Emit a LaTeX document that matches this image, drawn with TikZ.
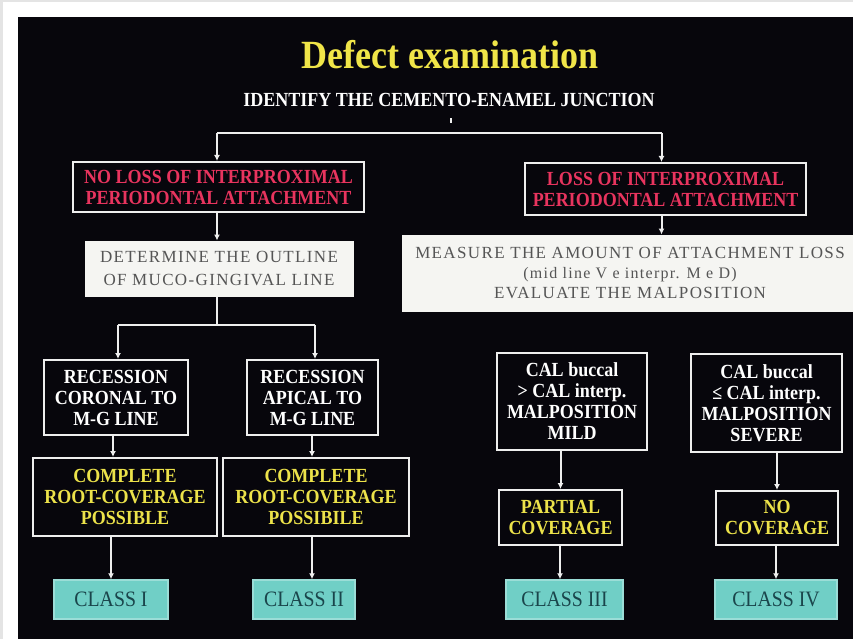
\documentclass[tikz,border=0pt]{standalone}
\usepackage{fontspec}
\setmainfont{Liberation Serif}
\newfontfamily\condfont[FakeStretch=0.9]{Liberation Serif}
\newfontfamily\spacedfont[LetterSpace=8]{Liberation Serif}
\usetikzlibrary{arrows.meta,calc}
\definecolor{bgc}{HTML}{07060C}
\definecolor{edgegrey}{HTML}{E4E4E4}
\definecolor{linew}{HTML}{EEEEEE}
\definecolor{redc}{HTML}{E8345E}
\definecolor{yelc}{HTML}{ECE24A}
\definecolor{titley}{HTML}{F0E548}
\definecolor{offw}{HTML}{F5F5F2}
\definecolor{greyt}{HTML}{555555}
\definecolor{cyanc}{HTML}{70CFC6}
\definecolor{tealt}{HTML}{1A454B}
\tikzset{
  darkbox/.style={draw=linew, line width=2pt, fill=bgc, inner sep=0pt, align=center,
    font=\condfont\bfseries\fontsize{20}{21}\selectfont},
  redbox/.style={darkbox, text=redc},
  yelbox/.style={darkbox, text=yelc},
  whtbox/.style={darkbox, text=white},
  lightbox/.style={draw=offw, fill=offw, line width=1pt, inner sep=0pt, align=center,
    text=greyt, font=\spacedfont\fontsize{17}{23}\selectfont},
  classbox/.style={fill=cyanc, draw=cyanc!70!white, line width=1.5pt, inner sep=0pt,
    text=tealt, font=\condfont\fontsize{22}{24}\selectfont},
  conn/.style={draw=linew, line width=2pt},
  arr/.style={conn, -{Latex[length=6pt,width=6pt]}},
}
\begin{document}
\begin{tikzpicture}[x=1pt,y=-1pt]
\fill[edgegrey] (0,0) rectangle (853,639);
\fill[white] (3,2) rectangle (853,639);
\fill[bgc] (18,17) rectangle (853,639);
\useasboundingbox (0,0) rectangle (853,639);

% titles
\node[text=titley, font=\condfont\bfseries\fontsize{40}{44}\selectfont] (title) at (450,55) {Defect examination};
\node[text=white, font=\condfont\bfseries\fontsize{20}{22}\selectfont] (ident) at (449,100) {IDENTIFY THE CEMENTO-ENAMEL JUNCTION};

% level 1
\node[redbox, minimum width=291pt, minimum height=50pt] (b1) at (218.5,187) {NO LOSS OF INTERPROXIMAL\\PERIODONTAL ATTACHMENT};
\node[redbox, minimum width=281pt, minimum height=52pt] (b2) at (665.5,189) {LOSS OF INTERPROXIMAL\\PERIODONTAL ATTACHMENT};

% level 2
\node[lightbox, minimum width=268pt, minimum height=55pt] (b3) at (219,268.5) {DETERMINE THE OUTLINE\\OF MUCO-GINGIVAL LINE};
\node[lightbox, minimum width=456pt, minimum height=76pt, font=\spacedfont\fontsize{17}{20}\selectfont] (b4) at (630,273)
  {MEASURE THE AMOUNT OF ATTACHMENT LOSS\\{\fontsize{16}{20}\selectfont(mid line V e interpr. M e D)}\\EVALUATE THE MALPOSITION};

% level 3
\node[whtbox, minimum width=144pt, minimum height=75pt] (b5) at (116,397.5) {RECESSION\\CORONAL TO\\M-G LINE};
\node[whtbox, minimum width=131pt, minimum height=75pt] (b6) at (312.5,397.5) {RECESSION\\APICAL TO\\M-G LINE};
\node[whtbox, minimum width=150pt, minimum height=97pt] (b9) at (572,401.5) {CAL buccal\\> CAL interp.\\MALPOSITION\\MILD};
\node[whtbox, minimum width=151pt, minimum height=98pt] (b10) at (766.5,403) {CAL buccal\\≤ CAL interp.\\MALPOSITION\\SEVERE};

% level 4
\node[yelbox, minimum width=184pt, minimum height=78pt] (b7) at (125,497) {COMPLETE\\ROOT-COVERAGE\\POSSIBLE};
\node[yelbox, minimum width=186pt, minimum height=78pt] (b8) at (316,497) {COMPLETE\\ROOT-COVERAGE\\POSSIBILE};
\node[yelbox, minimum width=123pt, minimum height=55pt] (b11) at (560.5,517.5) {PARTIAL\\COVERAGE};
\node[yelbox, minimum width=122pt, minimum height=54pt] (b12) at (777,518) {NO\\COVERAGE};

% classes
\node[classbox, minimum width=114pt, minimum height=39pt] (c1) at (111,599.5) {CLASS I};
\node[classbox, minimum width=102pt, minimum height=39pt] (c2) at (304,599.5) {CLASS II};
\node[classbox, minimum width=117pt, minimum height=39pt] (c3) at (564.5,599.5) {CLASS III};
\node[classbox, minimum width=122pt, minimum height=39pt] (c4) at (776,599.5) {CLASS IV};

% connectors
\coordinate (j1) at (451,133);
\draw[conn] ([xshift=2pt,yshift=-8pt]ident.south) -- ([xshift=2pt,yshift=-13pt]ident.south);
\draw[conn] ([xshift=-1.5pt]b1.north |- j1) -- ([xshift=-4pt]b2.north |- j1);
\draw[arr] ([xshift=-1.5pt]b1.north |- j1) -- ([xshift=-1.5pt]b1.north);
\draw[arr] ([xshift=-4pt]b2.north |- j1) -- ([xshift=-4pt]b2.north);
\draw[arr] ([xshift=-1.5pt]b1.south) -- ([xshift=-1.5pt]b1.south |- b3.north);
\draw[arr] ([xshift=-4pt]b2.south) -- ([xshift=-4pt]b2.south |- b4.north);

\coordinate (j2) at (217,325);
\draw[conn] ([xshift=-2pt]b3.south) -- ([xshift=-2pt]b3.south |- j2);
\draw[conn] ([xshift=2pt]b5.north |- j2) -- ([xshift=2.5pt]b6.north |- j2);
\draw[arr] ([xshift=2pt]b5.north |- j2) -- ([xshift=2pt]b5.north);
\draw[arr] ([xshift=2.5pt]b6.north |- j2) -- ([xshift=2.5pt]b6.north);

\draw[arr] ([xshift=-3pt]b5.south) -- ([xshift=-3pt]b5.south |- b7.north);
\draw[arr] ([xshift=-0.5pt]b6.south) -- ([xshift=-0.5pt]b6.south |- b8.north);
\draw[arr] (b11.north |- b9.south) -- (b11.north);
\draw[arr] (b12.north |- b10.south) -- (b12.north);

\draw[arr] (c1.north |- b7.south) -- (c1.north);
\draw[arr] ([xshift=-4pt]b8.south) -- ([xshift=-4pt]b8.south |- c2.north);
\draw[arr] ([xshift=-0.5pt]b11.south) -- ([xshift=-0.5pt]b11.south |- c3.north);
\draw[arr] (c4.north |- b12.south) -- (c4.north);
\end{tikzpicture}
\end{document}
